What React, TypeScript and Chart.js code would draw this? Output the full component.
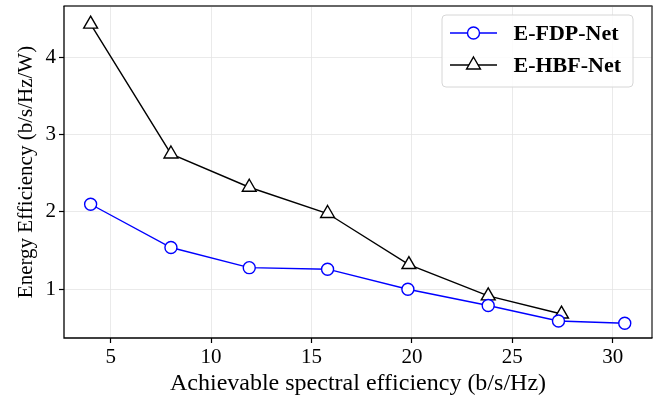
import { useEffect, useRef } from "react";
import { Chart, registerables } from "chart.js";

Chart.register(...registerables);

const seriesLabels = ["E-FDP-Net", "E-HBF-Net"];
const fdpX = [4, 8, 11.9, 15.8, 19.8, 23.8, 27.3, 30.6];
const fdpY = [2.1, 1.54, 1.28, 1.26, 1.0, 0.79, 0.59, 0.56];
const hbfX = [4, 8, 11.9, 15.8, 19.85, 23.8, 27.45];
const hbfY = [4.43, 2.75, 2.32, 1.98, 1.32, 0.915, 0.68];
const xTitle = "Achievable spectral efficiency (b/s/Hz)";
const yTitle = "Energy Efficiency (b/s/Hz/W)";
const xRange = [2.674, 31.957];
const yRange = [0.37, 4.664];

const SERIF = "'Liberation Serif', 'Times New Roman', serif";

const framePlugin = {
  id: "frame",
  afterDatasetsDraw(chart: any) {
    const { ctx, chartArea: a } = chart;
    ctx.save();
    ctx.lineCap = "butt";
    ctx.strokeStyle = "#666666";
    ctx.lineWidth = 1.8;
    ctx.beginPath();
    ctx.moveTo(a.left - 0.5, a.top);
    ctx.lineTo(a.right + 0.5, a.top);
    ctx.stroke();
    ctx.strokeStyle = "#444444";
    ctx.lineWidth = 1.5;
    ctx.beginPath();
    ctx.moveTo(a.right, a.top);
    ctx.lineTo(a.right, a.bottom);
    ctx.stroke();
    ctx.strokeStyle = "#000000";
    ctx.lineWidth = 1.3;
    ctx.beginPath();
    ctx.moveTo(a.left, a.top);
    ctx.lineTo(a.left, a.bottom);
    ctx.lineTo(a.right + 0.5, a.bottom);
    ctx.stroke();
    ctx.restore();
  },
};

const legendPlugin = {
  id: "customLegend",
  afterDraw(chart: any) {
    const { ctx } = chart;
    ctx.save();
    const bx = 442, by = 15, bw = 191, bh = 72, r = 4;
    ctx.beginPath();
    ctx.moveTo(bx + r, by);
    ctx.lineTo(bx + bw - r, by);
    ctx.quadraticCurveTo(bx + bw, by, bx + bw, by + r);
    ctx.lineTo(bx + bw, by + bh - r);
    ctx.quadraticCurveTo(bx + bw, by + bh, bx + bw - r, by + bh);
    ctx.lineTo(bx + r, by + bh);
    ctx.quadraticCurveTo(bx, by + bh, bx, by + bh - r);
    ctx.lineTo(bx, by + r);
    ctx.quadraticCurveTo(bx, by, bx + r, by);
    ctx.closePath();
    ctx.fillStyle = "rgba(255,255,255,0.85)";
    ctx.fill();
    ctx.strokeStyle = "#d6d6d6";
    ctx.lineWidth = 1;
    ctx.stroke();

    chart.data.datasets.forEach((ds: any, i: number) => {
      const y = 33 + i * 32;
      ctx.strokeStyle = ds.borderColor;
      ctx.lineWidth = ds.borderWidth;
      ctx.beginPath();
      ctx.moveTo(450, y);
      ctx.lineTo(497, y);
      ctx.stroke();
      const mx = 473.5;
      ctx.fillStyle = "#ffffff";
      ctx.strokeStyle = ds.pointBorderColor;
      ctx.lineWidth = ds.pointBorderWidth;
      ctx.beginPath();
      if (ds.pointStyle === "triangle") {
        const rr = ds.pointRadius;
        for (let k = 0; k < 3; k++) {
          const ang = (k * 2 * Math.PI) / 3;
          const px = mx + Math.sin(ang) * rr;
          const py = y - Math.cos(ang) * rr;
          if (k === 0) ctx.moveTo(px, py);
          else ctx.lineTo(px, py);
        }
        ctx.closePath();
      } else {
        ctx.arc(mx, y, ds.pointRadius, 0, Math.PI * 2);
      }
      ctx.fill();
      ctx.stroke();
      ctx.fillStyle = "#000000";
      ctx.font = `bold 22px ${SERIF}`;
      ctx.textBaseline = "middle";
      ctx.textAlign = "left";
      ctx.fillText(ds.label, 513.5, y + 1);
    });
    ctx.restore();
  },
};

export default function App() {
  const ref = useRef<HTMLCanvasElement>(null);
  useEffect(() => {
    document.body.style.margin = "0";
    const canvas = ref.current!;
    const chart = new Chart(canvas, {
      type: "line",
      data: {
        datasets: [
          {
            label: seriesLabels[0],
            data: fdpX.map((x, i) => ({ x, y: fdpY[i] })),
            borderColor: "#0000ff",
            borderWidth: 1.4,
            pointStyle: "circle",
            pointRadius: 6,
            pointBorderColor: "#0000ff",
            pointBackgroundColor: "#ffffff",
            pointBorderWidth: 1.4,
            tension: 0,
          },
          {
            label: seriesLabels[1],
            data: hbfX.map((x, i) => ({ x, y: hbfY[i] })),
            borderColor: "#000000",
            borderWidth: 1.4,
            pointStyle: "triangle",
            pointRadius: 8,
            pointBorderColor: "#000000",
            pointBackgroundColor: "#ffffff",
            pointBorderWidth: 1.4,
            tension: 0,
          },
        ],
      } as any,
      options: {
        responsive: false,
        animation: false,
        events: [],
        devicePixelRatio: 1,
        layout: { autoPadding: false, padding: { left: 0, right: 12, top: 6, bottom: 0 } },
        plugins: {
          legend: { display: false },
          tooltip: { enabled: false },
        },
        scales: {
          x: {
            type: "linear",
            min: xRange[0],
            max: xRange[1],
            afterFit: (s: any) => {
              s.height = 60;
              s.paddingLeft = 0;
              s.paddingRight = 0;
            },
            grid: {
              color: "#e4e4e4",
              lineWidth: 0.8,
              tickColor: "#000000",
              tickLength: 5,
              tickWidth: 1.2,
            },
            border: { display: false },
            ticks: {
              stepSize: 5,
              includeBounds: false,
              padding: 2,
              color: "#000000",
              font: { family: SERIF, size: 21 },
              maxRotation: 0,
            },
            title: {
              display: true,
              text: xTitle,
              color: "#000000",
              font: { family: SERIF, size: 24 },
              padding: { top: 0, bottom: 0 },
            },
          },
          y: {
            type: "linear",
            min: yRange[0],
            max: yRange[1],
            afterFit: (s: any) => {
              s.width = 64;
              s.paddingTop = 0;
              s.paddingBottom = 0;
            },
            grid: {
              color: "#e4e4e4",
              lineWidth: 0.8,
              tickColor: "#000000",
              tickLength: 5,
              tickWidth: 1.2,
            },
            border: { display: false },
            ticks: {
              stepSize: 1,
              includeBounds: false,
              padding: 3,
              color: "#000000",
              font: { family: SERIF, size: 21 },
            },
            title: {
              display: true,
              text: yTitle,
              color: "#000000",
              font: { family: SERIF, size: 21 },
              padding: { top: 14, bottom: 0 },
            },
          },
        },
      } as any,
      plugins: [framePlugin, legendPlugin],
    });
    return () => chart.destroy();
  }, []);
  return (
    <div style={{ width: 664, height: 398 }}>
      <canvas ref={ref} width={664} height={398} style={{ width: 664, height: 398, display: "block" }} />
    </div>
  );
}
